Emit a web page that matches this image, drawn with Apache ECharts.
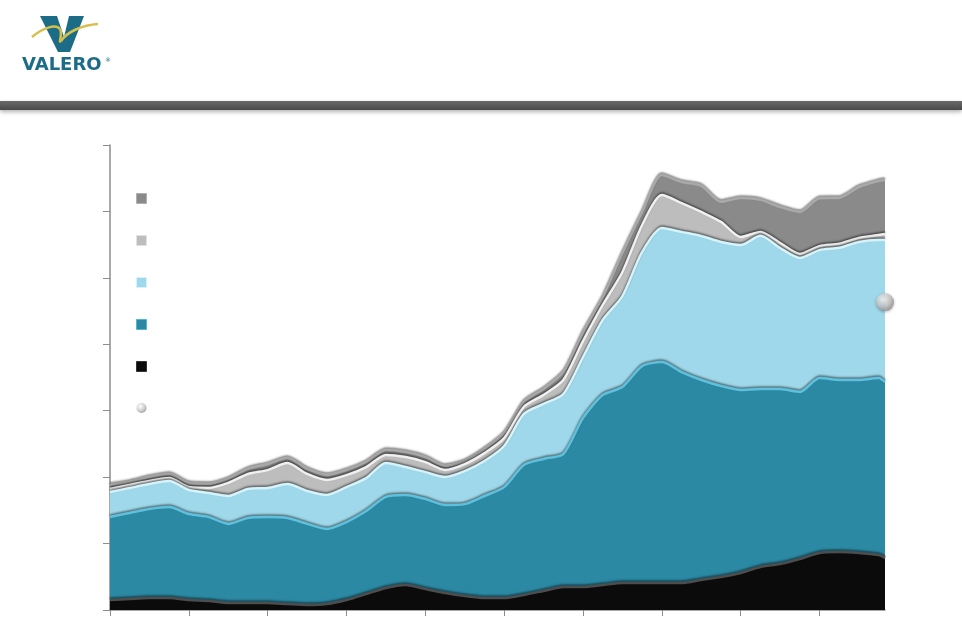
<!DOCTYPE html>
<html>
<head>
<meta charset="utf-8">
<title>Valero</title>
<script src="https://cdn.jsdelivr.net/npm/echarts@6/dist/echarts.min.js"></script>
<style>
  html, body { margin: 0; padding: 0; background: #fff; }
  #chart { width: 962px; height: 619px; }
</style>
</head>
<body>
<div id="chart"></div>
<script>
// quarters (years from axis start)
const quarters = [0, 0.25, 0.5, 0.75, 1, 1.25, 1.5, 1.75, 2, 2.25, 2.5, 2.75, 3, 3.25, 3.5, 3.75,
    4, 4.25, 4.5, 4.75, 5, 5.25, 5.5, 5.75, 6, 6.25, 6.5, 6.75, 7, 7.25, 7.5, 7.75,
    8, 8.25, 8.5, 8.75, 9, 9.25, 9.5, 9.75, 9.83];
const xTicks = [0, 1, 2, 3, 4, 5, 6, 7, 8, 9];

// stacked layers, bottom to top
const blackLayer = [75, 83, 90, 90, 75, 68, 53, 53, 53, 45, 38, 45, 75, 120, 166, 188,
    158, 128, 105, 90, 90, 113, 143, 173, 173, 188, 203, 203, 203, 203, 226, 248,
    279, 324, 346, 384, 429, 437, 429, 414, 391];
const tealLayer = [625, 647, 670, 685, 647, 632, 595, 640, 647, 647, 610, 565, 587, 625, 685, 677,
    677, 662, 692, 768, 835, 979, 994, 1001, 1272, 1430, 1475, 1633, 1663, 1588, 1505, 1438,
    1377, 1340, 1317, 1257, 1317, 1295, 1302, 1332, 1325];
const lightBlueLayer = [188, 188, 188, 196, 181, 181, 211, 218, 218, 256, 248, 256, 263, 248, 256, 211,
    203, 211, 248, 263, 309, 384, 414, 452, 459, 565, 685, 859, 1009, 1054, 1084, 1084,
    1091, 1152, 1061, 1009, 963, 994, 1039, 1039, 1069];
const lightGrayLayer = [23, 23, 23, 23, 23, 38, 98, 113, 135, 158, 128, 113, 90, 83, 60, 75,
    75, 53, 53, 60, 60, 53, 68, 105, 120, 113, 181, 203, 248, 218, 181, 151,
    60, 30, 38, 30, 30, 30, 30, 38, 45];
const darkGrayLayer = [30, 23, 30, 30, 30, 30, 30, 38, 45, 38, 38, 38, 38, 38, 38, 38,
    38, 30, 23, 30, 38, 38, 45, 60, 68, 60, 143, 98, 151, 158, 196, 151,
    294, 241, 271, 316, 361, 346, 384, 406, 406];
const marker = [[9.83, 2318]];

const names = ['Layer 5', 'Layer 4', 'Layer 3', 'Layer 2', 'Layer 1', 'Point'];

var chartDom = document.getElementById('chart');
var myChart = echarts.init(chartDom);

// both axes are value axes, so stack by hand: each area is drawn from 0
// up to its running total, upper layers underneath lower ones
var layers = [blackLayer, tealLayer, lightBlueLayer, lightGrayLayer, darkGrayLayer];
var running = quarters.map(function () { return 0; });
var totals = layers.map(function (layer) {
    running = running.map(function (s, i) { return s + layer[i]; });
    return running.map(function (s, i) { return [quarters[i], s]; });
});

function areaSeries(name, data, fill, edge, z) {
    return {
        name: name,
        type: 'line',
        data: data,
        smooth: 0.25,
        showSymbol: false,
        symbol: 'none',
        z: z,
        lineStyle: {
            color: edge,
            width: 2.5,
            shadowColor: 'rgba(0,0,0,0.5)',
            shadowBlur: 2,
            shadowOffsetY: -1.5
        },
        itemStyle: { color: fill },
        areaStyle: { color: fill, opacity: 1 }
    };
}

var sphere = {
    type: 'radial', x: 0.38, y: 0.35, r: 0.7,
    colorStops: [
        { offset: 0, color: '#ffffff' },
        { offset: 0.6, color: '#c4c4c4' },
        { offset: 1, color: '#8a8a8a' }
    ]
};

var swoosh = { fill: 'none', stroke: '#d6c04c', lineWidth: 2.5 };

function legendItem(name, icon, border) {
    return { name: name, icon: icon, itemStyle: { borderColor: border, borderWidth: 1 } };
}

var option = {
    animation: false,
    backgroundColor: '#ffffff',
    grid: { left: 110, right: 77, top: 145, bottom: 9, containLabel: false },
    legend: {
        orient: 'vertical',
        left: 131,
        top: 188,
        itemWidth: 10,
        itemHeight: 10,
        itemGap: 31,
        formatter: function () { return ''; },
        textStyle: { fontSize: 10 },
        data: [
            legendItem(names[0], 'rect', '#b0b0b0'),
            legendItem(names[1], 'rect', '#e2e2e2'),
            legendItem(names[2], 'rect', '#d6f3fb'),
            legendItem(names[3], 'rect', '#55b4d0'),
            legendItem(names[4], 'rect', '#333333'),
            { name: names[5], icon: 'circle' }
        ]
    },
    xAxis: {
        type: 'value',
        min: 0,
        max: 9.83,
        splitLine: { show: false },
        axisLine: { lineStyle: { color: '#8c8c8c', width: 1.5 } },
        axisTick: { show: true, inside: false, length: 6, customValues: xTicks, lineStyle: { color: '#8c8c8c' } },
        axisLabel: { show: false }
    },
    yAxis: {
        type: 'value',
        min: 0,
        max: 3500,
        interval: 500,
        splitLine: { show: false },
        axisLine: { show: true, lineStyle: { color: '#8c8c8c', width: 1.5 } },
        axisTick: { show: true, inside: false, length: 7, lineStyle: { color: '#8c8c8c' } },
        axisLabel: { show: false }
    },
    graphic: [
        {
            type: 'rect',
            shape: { x: 0, y: 101, width: 962, height: 9 },
            style: {
                fill: { type: 'linear', x: 0, y: 0, x2: 0, y2: 1,
                    colorStops: [{ offset: 0, color: '#6a6a6a' }, { offset: 1, color: '#4a4a4a' }] },
                shadowBlur: 4, shadowOffsetY: 2, shadowColor: 'rgba(0,0,0,0.3)'
            },
            z: 10
        },
        {
            type: 'polygon',
            shape: { points: [[40, 16], [57, 16], [64, 37], [69, 16], [84, 16], [70, 52], [58, 52]] },
            style: { fill: '#1c6c88' },
            z: 10
        },
        {
            type: 'bezierCurve',
            shape: { x1: 32, y1: 37, cpx1: 44, cpy1: 27, cpx2: 56, cpy2: 24, x2: 60, y2: 29 },
            style: swoosh,
            z: 11
        },
        {
            type: 'bezierCurve',
            shape: { x1: 60, y1: 29, cpx1: 63, cpy1: 34, cpx2: 58, cpy2: 44, x2: 61, y2: 41 },
            style: swoosh,
            z: 11
        },
        {
            type: 'bezierCurve',
            shape: { x1: 61, y1: 41, cpx1: 67, cpy1: 32, cpx2: 82, cpy2: 25, x2: 98, y2: 24 },
            style: swoosh,
            z: 11
        },
        {
            type: 'text',
            left: 22,
            top: 56,
            style: {
                text: 'VALERO',
                fill: '#1c6c88',
                font: 'bold 18px "DejaVu Sans"'
            },
            z: 10
        },
        {
            type: 'text',
            left: 105,
            top: 57,
            style: { text: '®', fill: '#1c6c88', font: '6px "DejaVu Sans"' },
            z: 10
        }
    ],
    series: [
        areaSeries(names[4], totals[0], '#0b0b0b', '#4d4d4d', 7),
        areaSeries(names[3], totals[1], '#2b89a4', '#5ec0dc', 6),
        areaSeries(names[2], totals[2], '#9fd8ea', '#d4f4fc', 5),
        areaSeries(names[1], totals[3], '#bdbdbd', '#f0f0f0', 4),
        areaSeries(names[0], totals[4], '#8a8a8a', '#a9a9a9', 3),
        {
            name: names[5],
            type: 'scatter',
            data: marker,
            symbolSize: 18,
            z: 10,
            itemStyle: {
                color: sphere,
                shadowColor: 'rgba(0,0,0,0.35)',
                shadowBlur: 3,
                shadowOffsetY: 1
            }
        }
    ]
};

option && myChart.setOption(option);
</script>
</body>
</html>
